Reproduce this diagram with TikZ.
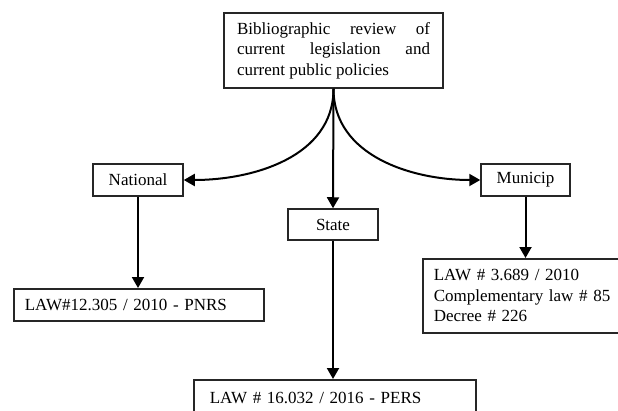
\documentclass[tikz,border=0pt]{standalone}
\usepackage{fontspec}
\setmainfont{Liberation Serif}
\usetikzlibrary{arrows.meta}
\hbadness=10000
\begin{document}
\begin{tikzpicture}[x=1pt,y=-1pt,
  box/.style={draw=black!85, line width=1.5pt, inner sep=3pt, font=\fontsize{17}{20.4}\selectfont},
  smallbox/.style={box, minimum width=90pt, minimum height=32pt, align=center},
  lawbox/.style={box, inner xsep=11pt, align=left, anchor=north west},
  arr/.style={line width=2pt, draw=black, -{Triangle[length=11pt,width=12pt]}}]
\useasboundingbox (0,0) rectangle (618,410);
\node[box, minimum width=219pt, minimum height=75pt] (top) at (333.5,50.5)
  {\parbox{193pt}{Bibliographic review of\linebreak current legislation and\linebreak current public policies}};
\node[smallbox] (nat) at (138,180) {National};
\node[smallbox, minimum height=31pt] (sta) at (333,224.5) {State};
\node[smallbox, minimum width=89pt] (mun) at (525.5,180) {Municip};
\node[lawbox, minimum width=250pt, minimum height=32pt, text width=228pt] (lnat) at (13,288) {LAW\#12.305 / 2010 - PNRS};
\node[lawbox, minimum width=282pt, minimum height=36pt, text width=250pt] (lsta) at (193,379) {LAW \# 16.032 / 2016 - PERS};
\node[lawbox, minimum width=200pt, minimum height=74pt, text width=180pt] (lmun) at (422,258) {LAW \# 3.689 / 2010\\Complementary law \# 85\\Decree \# 226};
\draw[arr] (top.south) to[out=-90,in=0] (nat.east);
\draw[arr] (top.south) to[out=-90,in=180] (mun.west);
\draw[arr] (top.south) -- (sta.north);
\draw[arr] (nat.south) -- (nat.south |- lnat.north);
\draw[arr] (sta.south) -- (sta.south |- lsta.north);
\draw[arr] (mun.south) -- (mun.south |- lmun.north);
\end{tikzpicture}
\end{document}
